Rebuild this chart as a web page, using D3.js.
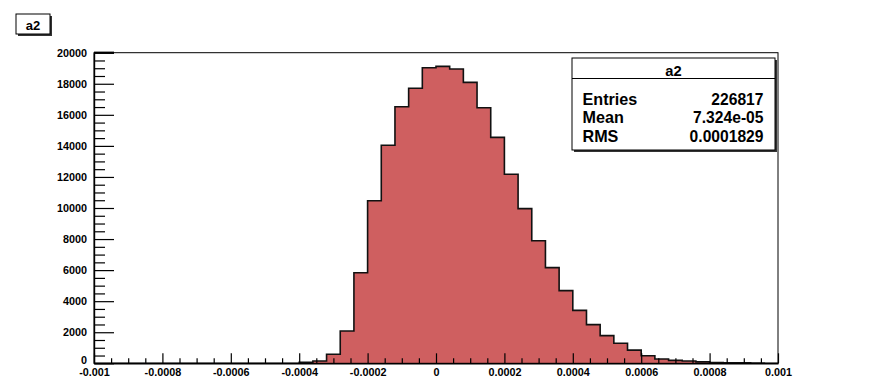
<!DOCTYPE html>
<html>
<head>
<meta charset="utf-8">
<script src="https://cdn.jsdelivr.net/npm/d3@7/dist/d3.min.js"></script>
<style>
  html, body { margin: 0; padding: 0; background: #ffffff; }
  svg { display: block; }
  text { font-family: "Liberation Sans", Arial, Helvetica, sans-serif; }
</style>
</head>
<body>
<svg id="chart" width="875" height="391"></svg>
<script>
// ---------------- data ----------------
const histTitle = "a2";
const xRange = [-0.001, 0.001];
const yRange = [0, 20000];
// lower edges of the 50 bins (width 0.00004)
const binLowEdges = [
  -0.00100, -0.00096, -0.00092, -0.00088, -0.00084, -0.00080, -0.00076, -0.00072, -0.00068, -0.00064,
  -0.00060, -0.00056, -0.00052, -0.00048, -0.00044, -0.00040, -0.00036, -0.00032, -0.00028, -0.00024,
  -0.00020, -0.00016, -0.00012, -0.00008, -0.00004,  0.00000,  0.00004,  0.00008,  0.00012,  0.00016,
   0.00020,  0.00024,  0.00028,  0.00032,  0.00036,  0.00040,  0.00044,  0.00048,  0.00052,  0.00056,
   0.00060,  0.00064,  0.00068,  0.00072,  0.00076,  0.00080,  0.00084,  0.00088,  0.00092,  0.00096
];
const binWidth = 0.00004;
const binCounts = [
      0,     0,     0,     0,     0,     0,     0,     0,     0,     0,
      0,     0,     0,     0,     0,    60,   150,   580,  2080,  5830,
  10470, 14040, 16520, 17710, 19030, 19120, 18950, 18090, 16460, 14550,
  12170,  9960,  7890,  6160,  4680,  3410,  2490,  1780,  1290,   850,
    490,   280,   190,   150,    90,    50,    40,    30,    20,     0
];
const xTickValues = [-0.001, -0.0008, -0.0006, -0.0004, -0.0002, 0, 0.0002, 0.0004, 0.0006, 0.0008, 0.001];
const xTickLabels = ["-0.001", "-0.0008", "-0.0006", "-0.0004", "-0.0002", "0", "0.0002", "0.0004", "0.0006", "0.0008", "0.001"];
const yTickValues = [0, 2000, 4000, 6000, 8000, 10000, 12000, 14000, 16000, 18000, 20000];
const yTickLabels = ["0", "2000", "4000", "6000", "8000", "10000", "12000", "14000", "16000", "18000", "20000"];
const statNames = ["Entries", "Mean", "RMS"];
const statValues = ["226817", "7.324e-05", "0.0001829"];

// ---------------- layout ----------------
const L = 94, R = 778, T = 52.7, B = 363.3;
const fillColor = "#cf5f60";

const svg = d3.select("#chart");
const x = d3.scaleLinear().domain(xRange).range([L, R]);
const y = d3.scaleLinear().domain(yRange).range([B, T]);

// histogram fill + outline
const pts = [[xRange[0], 0]];
binLowEdges.forEach((lo, i) => {
  pts.push([lo, binCounts[i]]);
  pts.push([lo + binWidth, binCounts[i]]);
});
pts.push([xRange[1], 0]);

const area = d3.area().x(d => x(d[0])).y0(y(0)).y1(d => y(d[1]));
const line = d3.line().x(d => x(d[0])).y(d => y(d[1]));

svg.append("path").attr("d", area(pts)).attr("fill", fillColor).attr("stroke", "none");
svg.append("path").attr("d", line(pts)).attr("fill", "none")
  .attr("stroke", "#111").attr("stroke-width", 1.6).attr("stroke-linejoin", "miter");

// frame
svg.append("rect").attr("x", L).attr("y", T).attr("width", R - L).attr("height", B - T)
  .attr("fill", "none").attr("stroke", "#000").attr("stroke-width", 1);

// y axis: minor ticks
const yMinor = d3.range(0, 20001, 500).filter(v => v % 2000 !== 0);
svg.append("g").attr("transform", `translate(${L},0)`)
  .call(d3.axisLeft(y).tickValues(yMinor).tickSize(-11).tickSizeOuter(0).tickFormat(""))
  .call(g => g.select(".domain").remove())
  .call(g => g.selectAll("line").attr("stroke", "#000").attr("stroke-width", 1.2));
// y axis: major ticks + labels
svg.append("g").attr("transform", `translate(${L},0)`)
  .call(d3.axisLeft(y).tickValues(yTickValues).tickSize(-20).tickSizeOuter(0).tickPadding(7)
    .tickFormat((d, i) => yTickLabels[i]))
  .call(g => g.select(".domain").attr("stroke", "#000").attr("stroke-width", 1.4))
  .call(g => g.selectAll("line").attr("stroke", "#000").attr("stroke-width", 1.2))
  .call(g => g.selectAll("text").attr("font-size", 10.8).attr("font-weight", "bold")
    .attr("fill", "#000").attr("font-family", "Liberation Sans, Arial, sans-serif"))
  .call(g => g.selectAll("text").filter(d => d === 0).attr("dy", "0.05em"));
// top thick segment at 20000 tick
svg.append("line").attr("x1", L).attr("x2", L + 20).attr("y1", y(20000)).attr("y2", y(20000))
  .attr("stroke", "#000").attr("stroke-width", 2.2);

// x axis: minor ticks
const xMinor = d3.range(-20, 21).map(k => k * 0.00005).filter(v => Math.abs(Math.round(v / 0.0002) * 0.0002 - v) > 1e-9);
svg.append("g").attr("transform", `translate(0,${B})`)
  .call(d3.axisBottom(x).tickValues(xMinor).tickSize(-5).tickSizeOuter(0).tickFormat(""))
  .call(g => g.select(".domain").remove())
  .call(g => g.selectAll("line").attr("stroke", "#000").attr("stroke-width", 1.2));
// x axis: major ticks + labels
svg.append("g").attr("transform", `translate(0,${B})`)
  .call(d3.axisBottom(x).tickValues(xTickValues).tickSize(-10).tickSizeOuter(0).tickPadding(5)
    .tickFormat((d, i) => xTickLabels[i]))
  .call(g => g.select(".domain").attr("stroke", "#000").attr("stroke-width", 1.6))
  .call(g => g.selectAll("line").attr("stroke", "#000").attr("stroke-width", 1.2))
  .call(g => g.selectAll("text").attr("font-size", 10.8).attr("font-weight", "bold")
    .attr("fill", "#000").attr("font-family", "Liberation Sans, Arial, sans-serif"));

// title box (top-left)
const tb = svg.append("g");
tb.append("rect").attr("x", 18).attr("y", 16).attr("width", 34).attr("height", 20).attr("fill", "#333");
tb.append("rect").attr("x", 16).attr("y", 14).attr("width", 34).attr("height", 20)
  .attr("fill", "#fff").attr("stroke", "#000").attr("stroke-width", 1);
tb.append("text").attr("x", 33).attr("y", 29.5).attr("text-anchor", "middle")
  .attr("font-size", 13).attr("font-weight", "bold").text(histTitle);

// stats box
const sx = 572, sy = 58, sw = 203, sh = 92;
const sb = svg.append("g");
sb.append("rect").attr("x", sx + 2).attr("y", sy + 2).attr("width", sw).attr("height", sh).attr("fill", "#333");
sb.append("rect").attr("x", sx).attr("y", sy).attr("width", sw).attr("height", sh)
  .attr("fill", "#fff").attr("stroke", "#000").attr("stroke-width", 1);
sb.append("line").attr("x1", sx).attr("x2", sx + sw).attr("y1", 78.5).attr("y2", 78.5)
  .attr("stroke", "#000").attr("stroke-width", 1);
sb.append("text").attr("transform", `translate(${sx + sw / 2},75.5) scale(0.95,1)`)
  .attr("text-anchor", "middle").attr("font-size", 15.5).attr("font-weight", "bold").text(histTitle);
const rowY = [105, 123.3, 141.7];
statNames.forEach((n, i) => {
  sb.append("text").attr("transform", `translate(582.5,${rowY[i]}) scale(0.95,1)`)
    .attr("font-size", 17).attr("font-weight", "bold").text(n);
  sb.append("text").attr("transform", `translate(763.5,${rowY[i]}) scale(0.92,1)`)
    .attr("font-size", 17).attr("font-weight", "bold").attr("text-anchor", "end").text(statValues[i]);
});
</script>
</body>
</html>
